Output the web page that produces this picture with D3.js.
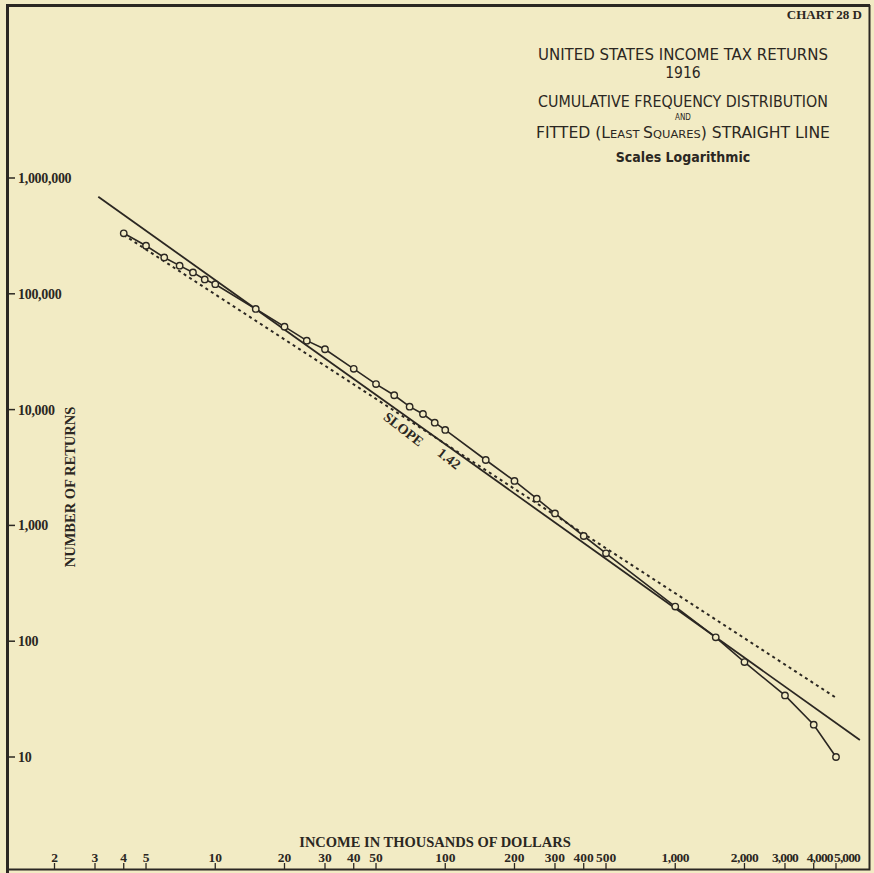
<!DOCTYPE html>
<html lang="en">
<head>
    <meta charset="UTF-8">
    <title>United States Income Tax Returns 1916</title>
    <script src="https://d3js.org/d3.v7.min.js"></script>
    <style>
        body {
            margin: 0;
            background: #f2ebc4;
        }
        svg {
            display: block;
        }
        .serif {
            font-family: "Liberation Serif", "DejaVu Serif", serif;
            font-weight: bold;
            fill: #2b2722;
        }
        .letter {
            font-family: "Liberation Sans Narrow", "DejaVu Sans Condensed", "DejaVu Sans", sans-serif;
            fill: #2b2722;
        }
    </style>
</head>
<body>
    <div id="chart"></div>

    <script>
        // income classes (thousands of dollars) and cumulative number of returns above each
        const incomeFloors = [4, 5, 6, 7, 8, 9, 10, 15, 20, 25, 30, 40, 50, 60, 70, 80, 90, 100,
            150, 200, 250, 300, 400, 500, 1000, 1500, 2000, 3000, 4000, 5000];
        const returnsAbove = [333000, 260000, 206000, 175000, 153000, 133000, 121000, 74000, 52000,
            39400, 33200, 22500, 16600, 13300, 10600, 9160, 7710, 6670, 3670, 2420, 1700, 1270,
            810, 574, 199, 108, 66, 34, 19, 10];

        // end points of the fitted straight line and of the dotted line
        const fittedIncome = [3.1, 6350];
        const fittedReturns = [690000, 14];
        const dottedIncome = [4, 5000];
        const dottedReturns = [322000, 32.5];

        const xTicks = [2, 3, 4, 5, 10, 20, 30, 40, 50, 100, 200, 300, 400, 500, 1000, 2000, 3000, 4000, 5000];
        const yTicks = [10, 100, 1000, 10000, 100000, 1000000];

        const titleLines = ["UNITED STATES INCOME TAX RETURNS", "1916", "CUMULATIVE FREQUENCY DISTRIBUTION"];

        const W = 874, H = 873;
        const ink = "#2b2722", paper = "#f2ebc4";

        const svg = d3.select("#chart")
            .append("svg")
            .attr("width", W)
            .attr("height", H);

        svg.append("rect").attr("width", W).attr("height", H).attr("fill", paper);

        // Scales
        const xScale = d3.scaleLog().domain([2, 5000]).range([54.5, 836]);
        const yScale = d3.scaleLog().domain([10, 1000000]).range([757, 178]);

        // Frame
        svg.append("path")
            .attr("d", `M7.5,${H} V5.5 H870`)
            .attr("fill", "none").attr("stroke", ink).attr("stroke-width", 3);
        svg.append("path")
            .attr("d", `M869.5,5 V869.5 H7`)
            .attr("fill", "none").attr("stroke", ink).attr("stroke-width", 2);

        // Y axis ticks + labels
        const fmt = d3.format(",");
        const yAxis = svg.append("g").attr("class", "y-axis");
        yAxis.selectAll("line").data(yTicks).enter().append("line")
            .attr("x1", 8).attr("x2", 15)
            .attr("y1", d => yScale(d)).attr("y2", d => yScale(d))
            .attr("stroke", ink).attr("stroke-width", 1.5);
        yAxis.selectAll("text").data(yTicks).enter().append("text")
            .attr("class", "serif")
            .attr("x", 18).attr("y", d => yScale(d) + 5)
            .attr("font-size", 14)
            .attr("letter-spacing", -0.3)
            .text(d => fmt(d));

        // X axis ticks + labels
        // the last labels are crowded, so they are pushed right a little as in the original
        const crowdShift = { 4000: 6, 5000: 11 };
        const xAxis = svg.append("g").attr("class", "x-axis");
        xAxis.selectAll("line").data(xTicks).enter().append("line")
            .attr("x1", d => xScale(d)).attr("x2", d => xScale(d))
            .attr("y1", 863).attr("y2", 869)
            .attr("stroke", ink).attr("stroke-width", 1.3);
        xAxis.selectAll("text").data(xTicks).enter().append("text")
            .attr("class", "serif")
            .attr("x", d => xScale(d) + (crowdShift[d] || 0)).attr("y", 862)
            .attr("text-anchor", "middle")
            .attr("font-size", 13.5)
            .attr("letter-spacing", d => d >= 3000 ? -0.9 : d >= 1000 ? -0.6 : 0)
            .text(d => fmt(d));

        // Axis titles
        svg.append("text").attr("class", "serif")
            .attr("x", 435).attr("y", 847)
            .attr("text-anchor", "middle").attr("font-size", 14.5)
            .text("INCOME IN THOUSANDS OF DOLLARS");
        svg.append("text").attr("class", "serif")
            .attr("transform", "translate(75,487) rotate(-90)")
            .attr("text-anchor", "middle").attr("font-size", 14.5)
            .text("NUMBER OF RETURNS");

        // Chart number
        svg.append("text").attr("class", "serif")
            .attr("x", 862).attr("y", 19)
            .attr("text-anchor", "end").attr("font-size", 13)
            .text("CHART 28 D");

        // Title block
        const tx = 683;
        svg.append("text").attr("class", "letter")
            .attr("x", tx).attr("y", 60).attr("text-anchor", "middle").attr("font-size", 15)
            .attr("textLength", 290).attr("lengthAdjust", "spacingAndGlyphs")
            .text(titleLines[0]);
        svg.append("text").attr("class", "letter")
            .attr("x", tx).attr("y", 78).attr("text-anchor", "middle").attr("font-size", 15.5)
            .text(titleLines[1]);
        svg.append("text").attr("class", "letter")
            .attr("x", tx).attr("y", 107).attr("text-anchor", "middle").attr("font-size", 15)
            .attr("textLength", 290).attr("lengthAdjust", "spacingAndGlyphs")
            .text(titleLines[2]);
        svg.append("text").attr("class", "letter")
            .attr("x", tx).attr("y", 120).attr("text-anchor", "middle").attr("font-size", 8)
            .text("AND");
        const fitted = svg.append("text").attr("class", "letter")
            .attr("x", tx).attr("y", 138).attr("text-anchor", "middle").attr("font-size", 15)
            .attr("textLength", 294).attr("lengthAdjust", "spacingAndGlyphs");
        fitted.append("tspan").text("FITTED (L");
        fitted.append("tspan").attr("font-size", 11).text("EAST ");
        fitted.append("tspan").text("S");
        fitted.append("tspan").attr("font-size", 11).text("QUARES");
        fitted.append("tspan").text(") STRAIGHT LINE");
        svg.append("text").attr("class", "letter")
            .attr("x", tx).attr("y", 162).attr("text-anchor", "middle").attr("font-size", 14)
            .attr("font-weight", "bold")
            .text("Scales Logarithmic");

        // Fitted straight line
        const line = d3.line().x(d => xScale(d[0])).y(d => yScale(d[1]));
        svg.append("path")
            .attr("d", line(d3.zip(fittedIncome, fittedReturns)))
            .attr("fill", "none").attr("stroke", ink).attr("stroke-width", 1.8);

        // Dotted line
        svg.append("path")
            .attr("d", line(d3.zip(dottedIncome, dottedReturns)))
            .attr("fill", "none").attr("stroke", ink).attr("stroke-width", 2)
            .attr("stroke-dasharray", "3,3.5");

        // Actual distribution
        const pts = d3.zip(incomeFloors, returnsAbove);
        svg.append("path")
            .attr("d", line(pts))
            .attr("fill", "none").attr("stroke", ink).attr("stroke-width", 1.6);
        svg.selectAll(".point").data(pts).enter().append("circle")
            .attr("class", "point")
            .attr("cx", d => xScale(d[0])).attr("cy", d => yScale(d[1]))
            .attr("r", 3.2)
            .attr("fill", paper).attr("stroke", ink).attr("stroke-width", 1.4);

        // Slope label, rotated along the fitted line
        svg.append("text").attr("class", "serif")
            .attr("transform", `translate(${xScale(64)},${yScale(6300)}) rotate(38)`)
            .attr("text-anchor", "middle").attr("font-size", 14)
            .text("SLOPE");
        svg.append("text").attr("class", "serif")
            .attr("transform", `translate(${xScale(101)},${yScale(3500)}) rotate(38)`)
            .attr("text-anchor", "middle").attr("font-size", 14)
            .text("1.42");
    </script>
</body>
</html>
